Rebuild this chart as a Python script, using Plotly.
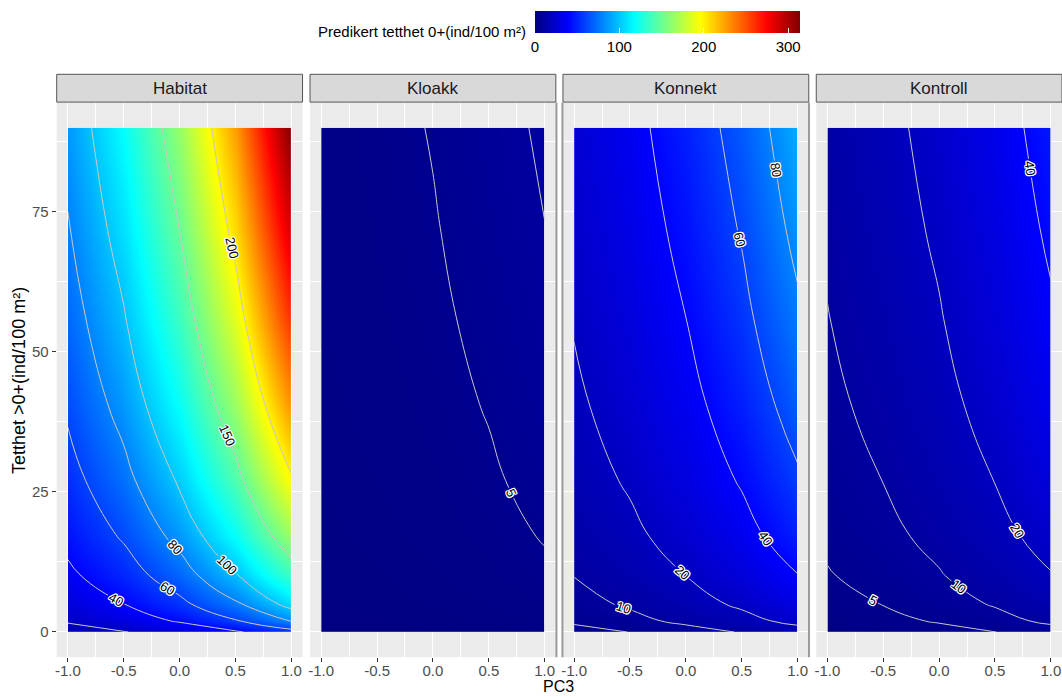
import plotly.graph_objects as go

# Predicted density of 0+ fish over PC3 (x) and density of older fish (y),
# one panel per treatment.
pc3 = [-1.0, -0.5, 0.0, 0.5, 1.0]
tetthet_eldre = [0, 2, 5, 10, 17, 27, 40, 55, 72, 90]

# rows follow tetthet_eldre, columns follow pc3
habitat = [
    [13.86, 19.37, 27.08, 37.86, 52.93],
    [21.63, 30.15, 42.02, 58.57, 81.63],
    [28.64, 39.84, 55.42, 77.09, 107.2],
    [36.60, 50.83, 70.58, 98.02, 136.1],
    [44.68, 61.96, 85.93, 119.2, 165.3],
    [53.44, 74.03, 102.5, 142.0, 196.8],
    [62.37, 86.31, 119.4, 165.3, 228.7],
    [70.76, 97.83, 135.2, 187.0, 258.5],
    [78.79, 108.8, 150.4, 207.7, 287.0],
    [86.13, 118.9, 164.2, 226.7, 313.0],
]
kloakk = [
    [0.270, 0.408, 0.618, 0.936, 1.416],
    [0.464, 0.695, 1.040, 1.557, 2.331],
    [0.653, 0.971, 1.444, 2.147, 3.193],
    [0.881, 1.302, 1.924, 2.844, 4.202],
    [1.124, 1.653, 2.430, 3.573, 5.255],
    [1.398, 2.046, 2.995, 4.385, 6.420],
    [1.687, 2.461, 3.589, 5.234, 7.634],
    [1.968, 2.861, 4.160, 6.047, 8.791],
    [2.243, 3.252, 4.716, 6.839, 9.917],
    [2.501, 3.618, 5.235, 7.575, 10.96],
]
konnekt = [
    [3.543, 5.078, 7.279, 10.43, 14.95],
    [5.726, 8.136, 11.56, 16.42, 23.33],
    [7.751, 10.95, 15.48, 21.87, 30.90],
    [10.10, 14.21, 19.98, 28.09, 39.50],
    [12.53, 17.55, 24.58, 34.43, 48.22],
    [15.20, 21.21, 29.60, 41.32, 57.66],
    [17.95, 24.98, 34.76, 48.36, 67.29],
    [20.57, 28.55, 39.63, 55.00, 76.34],
    [23.10, 31.99, 44.31, 61.37, 85.00],
    [25.44, 35.17, 48.62, 67.22, 92.93],
]
kontroll = [
    [1.591, 2.322, 3.391, 4.951, 7.229],
    [2.607, 3.767, 5.444, 7.866, 11.37],
    [3.562, 5.113, 7.340, 10.54, 15.12],
    [4.679, 6.678, 9.531, 13.60, 19.41],
    [5.841, 8.296, 11.79, 16.74, 23.78],
    [7.125, 10.08, 14.26, 20.17, 28.53],
    [8.459, 11.92, 16.81, 23.69, 33.39],
    [9.730, 13.68, 19.22, 27.01, 37.96],
    [10.96, 15.37, 21.55, 30.21, 42.35],
    [12.11, 16.94, 23.69, 33.15, 46.37],
]

panel_names = ["Habitat", "Kloakk", "Konnekt", "Kontroll"]
panel_values = [habitat, kloakk, konnekt, kontroll]
contour_levels = [5, 10, 20, 40, 60, 80, 100, 150, 200]
colour_ticks = [0, 100, 200, 300]
x_ticks = [-1.0, -0.5, 0.0, 0.5, 1.0]
x_ticktext = ["-1.0", "-0.5", "0.0", "0.5", "1.0"]
y_ticks = [0, 25, 50, 75]

W, H = 1062, 697
FONT = "Liberation Sans, Arial, sans-serif"
HALO = ("white 1px 0px 0px, white -1px 0px 0px, white 0px 1px 0px, "
        "white 0px -1px 0px, white 1px 1px 0px, white -1px -1px 0px, "
        "white 1px -1px 0px, white -1px 1px 0px")

jet = [
    [0.0, "#00007F"], [0.125, "#0000FF"], [0.25, "#007FFF"],
    [0.375, "#00FFFF"], [0.5, "#7FFF7F"], [0.625, "#FFFF00"],
    [0.75, "#FF7F00"], [0.875, "#FF0000"], [1.0, "#7F0000"],
]

# panel geometry in pixels
panel_left = [54.8, 308.6, 562.0, 815.8]
panel_width = 246.3
panel_top, panel_bottom = 102.6, 657.2
strip_top = 74.3
# thin grey seams between the right-hand panels
seam_x = [555.5, 561.5, 808.5]

fig = go.Figure()
layout = {}
shapes = []
annotations = []

for i, (name, z) in enumerate(zip(panel_names, panel_values)):
    sfx = "" if i == 0 else str(i + 1)
    xref, yref = "x" + sfx, "y" + sfx
    x0 = panel_left[i] / W
    x1 = min((panel_left[i] + panel_width) / W, 1.0)

    fig.add_trace(go.Contour(
        x=pc3, y=tetthet_eldre, z=z,
        coloraxis="coloraxis",
        contours=dict(coloring="heatmap", showlines=False,
                      start=0, end=400, size=400),
        line=dict(width=0),
        hoverinfo="skip",
        xaxis=xref, yaxis=yref,
    ))

    zmin = min(min(r) for r in z)
    zmax = max(max(r) for r in z)
    for lvl in contour_levels:
        if zmin < lvl < zmax:
            fig.add_trace(go.Contour(
                x=pc3, y=tetthet_eldre, z=z,
                autocontour=False,
                contours=dict(start=lvl, end=lvl, size=1, coloring="none",
                              showlabels=True,
                              labelfont=dict(size=13, color="black",
                                             family=FONT, shadow=HALO)),
                line=dict(color="#C8C8C8", width=1, smoothing=1.3),
                showscale=False,
                hoverinfo="skip",
                xaxis=xref, yaxis=yref,
            ))

    layout["xaxis" + sfx] = dict(
        domain=[x0, x1], anchor=yref, range=[-1.1, 1.1],
        tickvals=x_ticks, ticktext=x_ticktext,
        ticks="outside", ticklen=4, tickwidth=1, tickcolor="#333333",
        ticklabelstandoff=-4,
        tickfont=dict(size=15, color="#4D4D4D", family=FONT),
        showgrid=True, gridcolor="white", gridwidth=1.1,
        minor=dict(tickvals=[-0.75, -0.25, 0.25, 0.75], showgrid=True,
                   gridcolor="white", gridwidth=0.5, ticks=""),
        zeroline=False, showline=False,
    )
    layout["yaxis" + sfx] = dict(
        domain=[1 - panel_bottom / H, 1 - panel_top / H], anchor=xref,
        range=[-4.5, 94.5],
        tickvals=y_ticks,
        showticklabels=(i == 0),
        ticks="outside" if i == 0 else "", ticklen=4, tickwidth=1,
        tickcolor="#333333",
        tickfont=dict(size=15, color="#4D4D4D", family=FONT),
        showgrid=True, gridcolor="white", gridwidth=1.1,
        minor=dict(tickvals=[12.5, 37.5, 62.5, 87.5], showgrid=True,
                   gridcolor="white", gridwidth=0.5, ticks=""),
        zeroline=False, showline=False,
    )

    # facet strip
    shapes.append(dict(type="rect", xref="paper", yref="paper",
                       x0=x0, x1=x1, y0=1 - (panel_top - 0.5) / H,
                       y1=1 - strip_top / H,
                       fillcolor="#D9D9D9", line=dict(color="#555555", width=1)))
    annotations.append(dict(text=name, xref="paper", yref="paper",
                            x=(x0 + x1) / 2, y=1 - 88.5 / H, showarrow=False,
                            xanchor="center", yanchor="middle",
                            font=dict(size=17, color="#1A1A1A", family=FONT)))

for sx in seam_x:
    shapes.append(dict(type="line", xref="paper", yref="paper",
                       x0=sx / W, x1=sx / W,
                       y0=1 - panel_bottom / H, y1=1 - panel_top / H,
                       line=dict(color="#9A9A9A", width=2)))

# axis titles
annotations.append(dict(text="PC3", xref="paper", yref="paper",
                        x=558 / W, y=0, showarrow=False,
                        xanchor="center", yanchor="bottom",
                        font=dict(size=16, color="black", family=FONT)))
annotations.append(dict(text="Tetthet >0+(ind/100 m²)", xref="paper", yref="paper",
                        x=17 / W, y=1 - 380 / H, showarrow=False, textangle=-90,
                        xanchor="center", yanchor="middle",
                        font=dict(size=18, color="black", family=FONT)))
# colour bar title
annotations.append(dict(text="Predikert tetthet 0+(ind/100 m²)", xref="paper",
                        yref="paper", x=527 / W, y=1 - 32 / H, showarrow=False,
                        xanchor="right", yanchor="middle",
                        font=dict(size=15, color="black", family=FONT)))

fig.update_layout(
    width=W, height=H,
    margin=dict(l=0, r=0, t=0, b=0),
    paper_bgcolor="white", plot_bgcolor="#EBEBEB",
    font=dict(family=FONT),
    showlegend=False,
    coloraxis=dict(
        colorscale=jet, cmin=0, cmax=314,
        colorbar=dict(
            orientation="h", x=534 / W, xanchor="left",
            y=1 - 10.7 / H, yanchor="top",
            len=265, lenmode="pixels", thickness=22, thicknessmode="pixels",
            xpad=0, ypad=0, outlinewidth=0,
            tickvals=colour_ticks, ticks="inside", ticklen=5,
            tickcolor="white", tickwidth=1,
            tickfont=dict(size=15, color="black", family=FONT),
        ),
    ),
    shapes=shapes,
    annotations=annotations,
    **layout,
)

fig.write_html("out.html")
